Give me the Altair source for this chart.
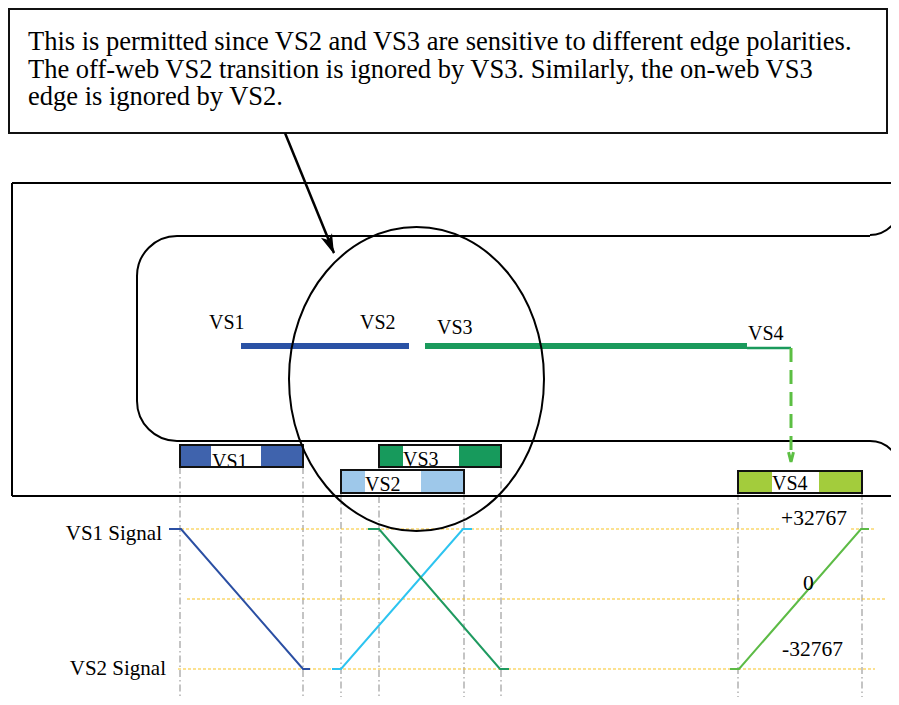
import math
import altair as alt
import pandas as pd

# ---------------- data (diagram units = reference pixels) ----------------
callout_lines = [
    "This is permitted since VS2 and VS3 are sensitive to different edge polarities.",
    "The off-web VS2 transition is ignored by VS3. Similarly, the on-web VS3",
    "edge is ignored by VS2.",
]
callout_line_y = [50, 77.5, 105]
callout_text_x = 28
callout_box = [9, 887, 9, 133]          # x, x2, y, y2
pointer_arrow = [285, 133, 334, 253]    # x, y, x2, y2

# web outline (straight parts)
web_x = [12, 12, 12, 177, 137, 177]
web_y = [183, 183, 496, 236, 276, 441]
web_x2 = [899, 12, 899, 870, 137, 870]
web_y2 = [183, 496, 496, 236, 401, 441]
# web outline (rounded corners): centre, radius, start/end angle (deg, clockwise from 12 o'clock)
corner_x = [177, 177, 870, 870]
corner_y = [276, 401, 205, 471]
corner_r = [40, 40, 30, 30]
corner_a1 = [270, 180, 90, 0]
corner_a2 = [360, 270, 180, 90]

# highlighted region (ellipse)
ellipse_cx, ellipse_cy, ellipse_rx, ellipse_ry = 416.5, 379, 127.5, 152

# sensor spans on web
span_names = ["VS1", "VS3"]
span_x = [241, 425]
span_x2 = [409, 747]
span_y = [346, 346]
span_colors = ["#2A52A5", "#1A9A5C"]
span_label = ["VS1", "VS2", "VS3", "VS4"]
span_label_x = [209, 360, 437, 748]
span_label_y = [329, 329, 334, 340]

# VS4 lead-out
lead_x, lead_x2, lead_y = 747, 791, 348
drop_y, drop_y2 = 348, 460

# sensor boxes
box_names = ["VS1", "VS3", "VS2", "VS4"]
box_x = [180, 379, 341, 738]
box_x2 = [303, 501, 464, 862]
box_y = [445, 445, 470, 471]
box_y2 = [467, 467, 493, 493]
box_colors = ["#3F63AD", "#179A5C", "#9EC8EA", "#A3CC3C"]
box_white_x = [211, 403, 365, 772]
box_white_x2 = [261, 459, 421, 819]
box_text_x = [212, 403, 365, 772]
box_text_y = [468, 466, 491, 490]

# edge guide lines
guide_x = [180, 303, 341, 379, 464, 501, 738, 862]
guide_y = [467, 467, 493, 467, 493, 467, 493, 493]
guide_y2 = [705] * 8

# signal levels
level_y = [529, 599, 669]
level_x = [181, 187, 178]
level_x2 = [875, 885, 875]
level_names = ["+32767", "0", "-32767"]
level_label_x = [781, 803, 782]
level_label_y = [525, 590, 656]
signal_label = ["VS1 Signal", "VS2 Signal"]
signal_label_x = [162, 166]
signal_label_y = [540, 675]

# signal traces
sig_vs1_x = [169, 181, 303, 310]
sig_vs1_y = [529, 529, 669, 669]
sig_vs2_x = [332, 341, 463, 472]
sig_vs2_y = [669, 669, 529, 529]
sig_vs3_x = [368, 379, 500, 509]
sig_vs3_y = [529, 529, 669, 669]
sig_vs4_x = [730, 739, 861, 869]
sig_vs4_y = [669, 669, 529, 529]
sig_colors = {"VS1": "#2B4FA3", "VS2": "#2DC4F0", "VS3": "#1F9A60", "VS4": "#5DBB46"}

# ---------------- chart ----------------
W, H = 883, 689
XS = alt.Scale(domain=[8, 8 + W], nice=False, zero=False)
YS = alt.Scale(domain=[8, 8 + H], nice=False, zero=False, reverse=True)
FONT = "Liberation Serif"


def X(f="x"):
    return alt.X(f"{f}:Q", scale=XS, axis=None)


def Y(f="y"):
    return alt.Y(f"{f}:Q", scale=YS, axis=None)


def segs(df, **kw):
    return alt.Chart(df).mark_rule(**kw).encode(
        x=X(), y=Y(), x2=alt.X2("x2:Q"), y2=alt.Y2("y2:Q"))


layers = []

# edge guides (under everything)
layers.append(segs(pd.DataFrame({"x": guide_x, "x2": guide_x, "y": guide_y, "y2": guide_y2}),
                   color="#C4C4C4", strokeWidth=2, strokeDash=[7, 3, 1.5, 3]))
# level lines
layers.append(segs(pd.DataFrame({"x": level_x, "x2": level_x2, "y": level_y, "y2": level_y}),
                   color="#F7C325", strokeWidth=1.2, strokeDash=[3, 2]))

# callout box
cb = pd.DataFrame({"x": [callout_box[0]], "x2": [callout_box[1]], "y": [callout_box[2]], "y2": [callout_box[3]]})
layers.append(alt.Chart(cb).mark_rect(fill="white", stroke="#111111", strokeWidth=2).encode(
    x=X(), x2=alt.X2("x2:Q"), y=Y(), y2=alt.Y2("y2:Q")))
layers.append(alt.Chart(pd.DataFrame({"x": [callout_text_x] * 3, "y": callout_line_y, "t": callout_lines}))
              .mark_text(align="left", baseline="alphabetic", font=FONT, fontSize=26.5, color="black")
              .encode(x=X(), y=Y(), text="t:N"))

# web outline
layers.append(segs(pd.DataFrame({"x": web_x, "y": web_y, "x2": web_x2, "y2": web_y2}),
                   color="black", strokeWidth=2))
cdf = pd.DataFrame({"x": corner_x, "y": corner_y, "r": corner_r,
                    "t1": [math.radians(a) for a in corner_a1],
                    "t2": [math.radians(a) for a in corner_a2]})
layers.append(alt.Chart(cdf).mark_arc(fillOpacity=0, stroke="black", strokeWidth=2).encode(
    x=X(), y=Y(),
    theta=alt.Theta("t1:Q", scale=None), theta2=alt.Theta2("t2:Q"),
    radius=alt.Radius("r:Q", scale=None), radius2=alt.Radius2("r:Q")))

# sensor spans
layers.append(segs(pd.DataFrame({"x": span_x, "x2": span_x2, "y": span_y, "y2": span_y, "c": span_colors}),
                   strokeWidth=6).encode(color=alt.Color("c:N", scale=None)))
layers.append(segs(pd.DataFrame({"x": [lead_x], "x2": [lead_x2], "y": [lead_y], "y2": [lead_y]}),
                   color="#1A9A5C", strokeWidth=2.5))
layers.append(segs(pd.DataFrame({"x": [lead_x2], "x2": [lead_x2], "y": [drop_y], "y2": [drop_y2]}),
                   color="#5CBF43", strokeWidth=3, strokeDash=[14, 8]))
layers.append(alt.Chart(pd.DataFrame({"x": [lead_x2], "y": [drop_y2 + 2]})).mark_point(
    shape="M -0.35 -1.4 L 0 0 L 0.35 -1.4", size=196, filled=False, stroke="#5CBF43",
    strokeWidth=3, opacity=1).encode(x=X(), y=Y()))
layers.append(alt.Chart(pd.DataFrame({"x": span_label_x, "y": span_label_y, "t": span_label}))
              .mark_text(align="left", baseline="alphabetic", font=FONT, fontSize=20, color="black")
              .encode(x=X(), y=Y(), text="t:N"))

# sensor boxes
bdf = pd.DataFrame({"x": box_x, "x2": box_x2, "y": box_y, "y2": box_y2, "c": box_colors,
                    "wx": box_white_x, "wx2": box_white_x2, "tx": box_text_x, "ty": box_text_y,
                    "t": box_names})
layers.append(alt.Chart(bdf).mark_rect(strokeWidth=0).encode(
    x=X(), x2=alt.X2("x2:Q"), y=Y(), y2=alt.Y2("y2:Q"), color=alt.Color("c:N", scale=None)))
layers.append(alt.Chart(bdf).mark_rect(fill="white").encode(
    x=X("wx"), x2=alt.X2("wx2:Q"), y=Y(), y2=alt.Y2("y2:Q")))
layers.append(alt.Chart(bdf).mark_text(align="left", baseline="alphabetic", font=FONT, fontSize=20,
                                       color="black").encode(x=X("tx"), y=Y("ty"), text="t:N"))
layers.append(alt.Chart(bdf).mark_rect(fillOpacity=0, stroke="#111111", strokeWidth=2).encode(
    x=X(), x2=alt.X2("x2:Q"), y=Y(), y2=alt.Y2("y2:Q")))

# label background for +32767
layers.append(alt.Chart(pd.DataFrame({"x": [780], "x2": [850], "y": [505], "y2": [532]}))
              .mark_rect(fill="white").encode(x=X(), x2=alt.X2("x2:Q"), y=Y(), y2=alt.Y2("y2:Q")))

# signal traces
rows = []
for name, xs, ys in [("VS1", sig_vs1_x, sig_vs1_y), ("VS2", sig_vs2_x, sig_vs2_y),
                     ("VS3", sig_vs3_x, sig_vs3_y), ("VS4", sig_vs4_x, sig_vs4_y)]:
    for i, (xv, yv) in enumerate(zip(xs, ys)):
        rows.append({"s": name, "x": xv, "y": yv, "o": i})
sdf = pd.DataFrame(rows)
layers.append(alt.Chart(sdf).mark_line(strokeWidth=2).encode(
    x=X(), y=Y(), order="o:Q", detail="s:N",
    color=alt.Color("s:N", scale=alt.Scale(domain=list(sig_colors), range=list(sig_colors.values())),
                    legend=None)))

# level + signal labels
layers.append(alt.Chart(pd.DataFrame({"x": level_label_x, "y": level_label_y, "t": level_names}))
              .mark_text(align="left", baseline="alphabetic", font=FONT, fontSize=21.5, color="black")
              .encode(x=X(), y=Y(), text="t:N"))
layers.append(alt.Chart(pd.DataFrame({"x": signal_label_x, "y": signal_label_y, "t": signal_label}))
              .mark_text(align="right", baseline="alphabetic", font=FONT, fontSize=21, color="black")
              .encode(x=X(), y=Y(), text="t:N"))

# highlight ellipse (custom symbol, unit radius scaled by sqrt(size)/2)
ratio = ellipse_ry / ellipse_rx
ell_path = f"M -1 0 A 1 {ratio:.4f} 0 1 1 1 0 A 1 {ratio:.4f} 0 1 1 -1 0 Z"
layers.append(alt.Chart(pd.DataFrame({"x": [ellipse_cx], "y": [ellipse_cy]})).mark_point(
    shape=ell_path, size=(2 * ellipse_rx) ** 2, filled=False, stroke="black", strokeWidth=2,
    opacity=1).encode(x=X(), y=Y()))

# pointer arrow
pa = pd.DataFrame({"x": [pointer_arrow[0]], "y": [pointer_arrow[1]],
                   "x2": [pointer_arrow[2]], "y2": [pointer_arrow[3]]})
layers.append(segs(pa, color="black", strokeWidth=2.5))
ang = (math.degrees(math.atan2(-(pointer_arrow[2] - pointer_arrow[0]),
                               pointer_arrow[3] - pointer_arrow[1]))) % 360
layers.append(alt.Chart(pd.DataFrame({"x": [pointer_arrow[2]], "y": [pointer_arrow[3] + 1]})).mark_point(
    shape="M 0 0 L -0.3 -1 L 0 -0.75 L 0.3 -1 Z", size=1600, filled=True, color="black",
    opacity=1, angle=ang).encode(x=X(), y=Y()))

chart = alt.layer(*layers).properties(
    width=W, height=H, padding=0,
    autosize=alt.AutoSizeParams(type="none"),
).configure_view(strokeWidth=0)

chart.save("out.html", embed_options={"renderer": "svg", "actions": False})
